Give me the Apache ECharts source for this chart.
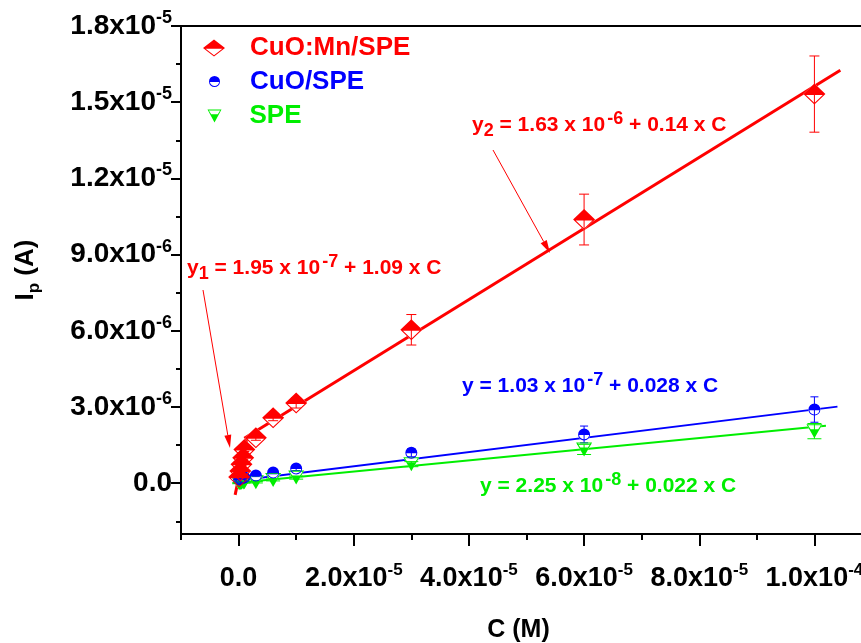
<!DOCTYPE html>
<html>
<head>
<meta charset="utf-8">
<script src="https://cdn.jsdelivr.net/npm/echarts@6/dist/echarts.min.js"></script>
<style>
  html, body { margin: 0; padding: 0; overflow: hidden; background: #fff; }
  #chart { width: 880px; height: 643px; }
</style>
</head>
<body>
<div id="chart"></div>
<script>
// Concentration of analyte (M)
const conc = [1e-7, 3e-7, 5e-7, 8e-7, 1e-6, 3e-6, 6e-6, 1e-5, 3e-5, 6e-5, 1e-4];

// Peak currents (A) and their error bars for each electrode
const ipCuOMn = [0.24e-6, 0.48e-6, 0.75e-6, 1.0e-6, 1.33e-6, 1.79e-6, 2.58e-6, 3.16e-6, 6.04e-6, 1.038e-5, 1.532e-5];
const errCuOMn = [0.05e-6, 0.05e-6, 0.05e-6, 0.06e-6, 0.08e-6, 0.1e-6, 0.12e-6, 0.2e-6, 0.6e-6, 1.0e-6, 1.5e-6];
const ipCuO = [0.15e-6, 0.17e-6, 0.19e-6, 0.21e-6, 0.23e-6, 0.30e-6, 0.42e-6, 0.58e-6, 1.2e-6, 1.92e-6, 2.9e-6];
const errCuO = [0.03e-6, 0.03e-6, 0.03e-6, 0.03e-6, 0.03e-6, 0.04e-6, 0.05e-6, 0.08e-6, 0.16e-6, 0.33e-6, 0.5e-6];
const ipSPE = [0.0, 0.01e-6, 0.02e-6, 0.03e-6, 0.04e-6, 0.04e-6, 0.13e-6, 0.22e-6, 0.75e-6, 1.33e-6, 2.05e-6];
const errSPE = [0.02e-6, 0.02e-6, 0.02e-6, 0.02e-6, 0.02e-6, 0.03e-6, 0.04e-6, 0.06e-6, 0.1e-6, 0.2e-6, 0.3e-6];

// Linear fits: intercept, slope and the concentration range each line spans
const fitY1 = { a: 1.95e-7, b: 1.09, from: -0.6e-6, to: 1.5e-6 };
const fitY2 = { a: 1.63e-6, b: 0.14, from: 1.0e-6, to: 1.045e-4 };
const fitCuO = { a: 1.03e-7, b: 0.028, from: 0, to: 1.04e-4 };
const fitSPE = { a: 2.25e-8, b: 0.022, from: -0.5e-6, to: 1.02e-4 };

// Axis ticks and their labels (mantissa + power of ten)
const xTicks = [0, 2e-5, 4e-5, 6e-5, 8e-5, 1e-4];
const xTickMantissa = ['0.0', '2.0x10', '4.0x10', '6.0x10', '8.0x10', '1.0x10'];
const xTickExp = ['', '-5', '-5', '-5', '-5', '-4'];
const xMinorTicks = [-1e-5, 1e-5, 3e-5, 5e-5, 7e-5, 9e-5, 1.1e-4];
const yTicks = [0, 3e-6, 6e-6, 9e-6, 1.2e-5, 1.5e-5, 1.8e-5];
const yTickMantissa = ['0.0', '3.0x10', '6.0x10', '9.0x10', '1.2x10', '1.5x10', '1.8x10'];
const yTickExp = ['', '-6', '-6', '-6', '-5', '-5', '-5'];
const yMinorTicks = [-1.5e-6, 1.5e-6, 4.5e-6, 7.5e-6, 1.05e-5, 1.35e-5, 1.65e-5];

const RED = '#ff0000', BLUE = '#0000ff', GREEN = '#00ee00';
const FONT = "'Liberation Sans', Arial, sans-serif";

// Half-filled marker shapes (filled part + outlined part with a hole)
const DIAMOND_HALF = 'path://M10,0 L20,10 L10,20 L0,10 Z M2.4,11 L10,18.6 L17.6,11 Z';
const DIAMOND_FULL = 'path://M10,0 L20,10 L10,20 L0,10 Z';
const CIRCLE_HALF = 'path://M0,10 A10,10 0 1,1 20,10 A10,10 0 1,1 0,10 Z M1.6,11 A8.5,8.5 0 0,0 18.4,11 Z';
const TRI_HALF = 'path://M0,0 L20,0 L10,17 Z M2,1.3 L5.3,6.3 L14.7,6.3 L18,1.3 Z';
const TRI_FULL = 'path://M0,0 L20,0 L10,17 Z';

function pairs(ys) { return conc.map((c, i) => [c, ys[i]]); }
function triples(ys, es) { return conc.map((c, i) => [c, ys[i], es[i]]); }
function fitLine(f) { return [[f.from, f.a + f.b * f.from], [f.to, f.a + f.b * f.to]]; }

function findIdx(arr, v) {
  for (let i = 0; i < arr.length; i++) if (Math.abs(arr[i] - v) < 1e-12) return i;
  return -1;
}

function errorBars(color, capHalf, data, z) {
  return {
    type: 'custom', silent: true, z: z,
    encode: { x: 0, y: 1 },
    data: data,
    renderItem: function (params, api) {
      const x = api.value(0), y = api.value(1), e = api.value(2);
      const top = api.coord([x, y + e]);
      const bot = api.coord([x, y - e]);
      const st = { stroke: color, lineWidth: 1 };
      return {
        type: 'group',
        children: [
          { type: 'line', shape: { x1: top[0], y1: top[1], x2: bot[0], y2: bot[1] }, style: st },
          { type: 'line', shape: { x1: top[0] - capHalf, y1: top[1], x2: top[0] + capHalf, y2: top[1] }, style: st },
          { type: 'line', shape: { x1: bot[0] - capHalf, y1: bot[1], x2: bot[0] + capHalf, y2: bot[1] }, style: st }
        ]
      };
    }
  };
}

function eqText(x, y, color, head, sub, body, sup, tail) {
  const parts = '{m|' + head + '}' + (sub ? '{sub|' + sub + '}' : '') + '{m|' + body + '}{sup|' + sup + '}{m|' + tail + '}';
  return {
    type: 'text', x: x, y: y, z: 20,
    style: {
      text: parts, fill: color, verticalAlign: 'middle',
      rich: {
        m: { fontSize: 21, fontWeight: 'bold', fontFamily: FONT, fill: color, lineHeight: 30 },
        sub: { fontSize: 18, fontWeight: 'bold', fontFamily: FONT, fill: color, verticalAlign: 'bottom', lineHeight: 18 },
        sup: { fontSize: 18, fontWeight: 'bold', fontFamily: FONT, fill: color, verticalAlign: 'top', lineHeight: 18, padding: [0, 0, 0, 2] }
      }
    }
  };
}

function arrow(x1, y1, x2, y2, color) {
  const ang = Math.atan2(y2 - y1, x2 - x1);
  const L = 13, W = 3.5;
  const bx = x2 - L * Math.cos(ang), by = y2 - L * Math.sin(ang);
  const px = -Math.sin(ang) * W, py = Math.cos(ang) * W;
  return [
    { type: 'line', z: 20, shape: { x1: x1, y1: y1, x2: bx, y2: by }, style: { stroke: color, lineWidth: 1 } },
    { type: 'polygon', z: 20, shape: { points: [[x2, y2], [bx + px, by + py], [bx - px, by - py]] }, style: { fill: color } }
  ];
}

const chart = echarts.init(document.getElementById('chart'), null, { renderer: 'canvas' });

const tickLabelRich = (size) => ({
  m: { fontSize: size, fontWeight: 'bold', fontFamily: FONT, color: '#000', lineHeight: size + 6 },
  s: { fontSize: Math.round(size * 0.64), fontWeight: 'bold', fontFamily: FONT, color: '#000', verticalAlign: 'top', lineHeight: Math.round(size * 0.64) }
});

function legendItem(name, icon, w, h, left, top, color, pad) {
  return {
    left: left, top: top, padding: 0, itemWidth: w, itemHeight: h,
    selectedMode: false, symbolKeepAspect: false,
    data: [{ name: name, icon: icon }],
    textStyle: { color: color, fontSize: 26, fontWeight: 'bold', fontFamily: FONT, padding: [0, 0, 0, pad] }
  };
}

const option = {
  animation: false,
  backgroundColor: '#fff',
  grid: {
    left: 181, top: 26, width: 691, height: 508, outerBoundsMode: 'none',
    show: true, borderColor: '#000', borderWidth: 2, backgroundColor: 'transparent'
  },
  legend: [
    legendItem('CuO:Mn/SPE', DIAMOND_HALF, 22, 17, 203, 35, RED, 20),
    legendItem('CuO/SPE', CIRCLE_HALF, 11, 11, 209, 68.5, BLUE, 25),
    legendItem('SPE', TRI_HALF, 14, 13, 207.5, 103, GREEN, 23)
  ],
  xAxis: [
    {
      type: 'value', min: -1e-5, max: 1.1e-4, position: 'bottom',
      axisLine: { onZero: false, lineStyle: { color: '#000', width: 2 } },
      axisTick: { customValues: xTicks, length: 12, lineStyle: { color: '#000', width: 2 } },
      axisLabel: {
        customValues: xTicks, margin: 28,
        formatter: function (v) {
          const i = findIdx(xTicks, v);
          if (i < 0) return '';
          return '{m|' + xTickMantissa[i] + '}' + (xTickExp[i] ? '{s|' + xTickExp[i] + '}' : '');
        },
        rich: tickLabelRich(27)
      },
      splitLine: { show: false },
      name: 'C (M)', nameLocation: 'middle', nameGap: 84,
      nameTextStyle: { fontSize: 25, fontWeight: 'bold', fontFamily: FONT, color: '#000', padding: [0, 16, 0, 0] }
    },
    {
      type: 'value', min: -1e-5, max: 1.1e-4, position: 'bottom',
      axisLine: { show: false, onZero: false },
      axisTick: { customValues: xMinorTicks, length: 6, lineStyle: { color: '#000', width: 2 } },
      axisLabel: { show: false },
      splitLine: { show: false }
    }
  ],
  yAxis: [
    {
      type: 'value', min: -2e-6, max: 1.8e-5, position: 'left',
      axisLine: { onZero: false, lineStyle: { color: '#000', width: 2 } },
      axisTick: { customValues: yTicks, length: 10, lineStyle: { color: '#000', width: 2 } },
      axisLabel: {
        customValues: yTicks, margin: 9,
        formatter: function (v) {
          const i = findIdx(yTicks, v);
          if (i < 0) return '';
          return '{m|' + yTickMantissa[i] + '}' + (yTickExp[i] ? '{s|' + yTickExp[i] + '}' : '');
        },
        rich: tickLabelRich(28)
      },
      splitLine: { show: false },
      name: '{b|I}{p|p}{b| (A)}', nameLocation: 'middle', nameGap: 138, nameRotate: 90,
      nameTextStyle: {
        padding: [0, 0, 0, 20],
        rich: {
          b: { fontSize: 26, fontWeight: 'bold', fontFamily: FONT, color: '#000', lineHeight: 34 },
          p: { fontSize: 17, fontWeight: 'bold', fontFamily: FONT, color: '#000', verticalAlign: 'bottom', lineHeight: 17 }
        }
      }
    },
    {
      type: 'value', min: -2e-6, max: 1.8e-5, position: 'left',
      axisLine: { show: false, onZero: false },
      axisTick: { customValues: yMinorTicks, length: 5, lineStyle: { color: '#000', width: 2 } },
      axisLabel: { show: false },
      splitLine: { show: false }
    }
  ],
  series: [
    // fitted lines
    { type: 'line', name: 'fit y1', data: fitLine(fitY1), symbol: 'none', silent: true, z: 1, lineStyle: { color: RED, width: 3 } },
    { type: 'line', name: 'fit y2', data: fitLine(fitY2), symbol: 'none', silent: true, z: 1, lineStyle: { color: RED, width: 3 } },
    { type: 'line', name: 'fit CuO', data: fitLine(fitCuO), symbol: 'none', silent: true, z: 1, lineStyle: { color: BLUE, width: 2 } },
    { type: 'line', name: 'fit SPE', data: fitLine(fitSPE), symbol: 'none', silent: true, z: 1, lineStyle: { color: GREEN, width: 2 } },

    // white backing of the open half of each marker
    { type: 'scatter', name: 'bg SPE', data: pairs(ipSPE), symbol: TRI_FULL, symbolSize: [16, 14], silent: true, z: 2, itemStyle: { color: '#fff', opacity: 1 } },
    { type: 'scatter', name: 'bg CuO', data: pairs(ipCuO), symbol: 'circle', symbolSize: 12, silent: true, z: 2, itemStyle: { color: '#fff', opacity: 1 } },
    { type: 'scatter', name: 'bg CuOMn', data: pairs(ipCuOMn), symbol: DIAMOND_FULL, symbolSize: [22, 21], silent: true, z: 2, itemStyle: { color: '#fff', opacity: 1 } },

    // error bars
    errorBars(GREEN, 7, triples(ipSPE, errSPE), 3),
    errorBars(BLUE, 4, triples(ipCuO, errCuO), 3),
    errorBars(RED, 5, triples(ipCuOMn, errCuOMn), 3),

    // markers
    { type: 'scatter', name: 'SPE', data: pairs(ipSPE), symbol: TRI_HALF, symbolSize: [16, 14], z: 4, itemStyle: { color: GREEN, opacity: 1 } },
    { type: 'scatter', name: 'CuO/SPE', data: pairs(ipCuO), symbol: CIRCLE_HALF, symbolSize: 12, z: 4, itemStyle: { color: BLUE, opacity: 1 } },
    { type: 'scatter', name: 'CuO:Mn/SPE', data: pairs(ipCuOMn), symbol: DIAMOND_HALF, symbolSize: [22, 21], z: 4, itemStyle: { color: RED, opacity: 1 } }
  ],
  graphic: [
    eqText(472, 125, RED, 'y', '2', ' = 1.63 x 10', '-6', ' + 0.14 x C'),
    eqText(187, 268, RED, 'y', '1', ' = 1.95 x 10', '-7', ' + 1.09 x C'),
    eqText(462, 386, BLUE, 'y', '', ' = 1.03 x 10', '-7', ' + 0.028 x C'),
    eqText(480, 486, GREEN, 'y', '', ' = 2.25 x 10', '-8', ' + 0.022 x C')
  ].concat(arrow(493, 150, 550, 253, RED), arrow(203, 290, 230, 448, RED))
};

chart.setOption(option);
</script>
</body>
</html>
